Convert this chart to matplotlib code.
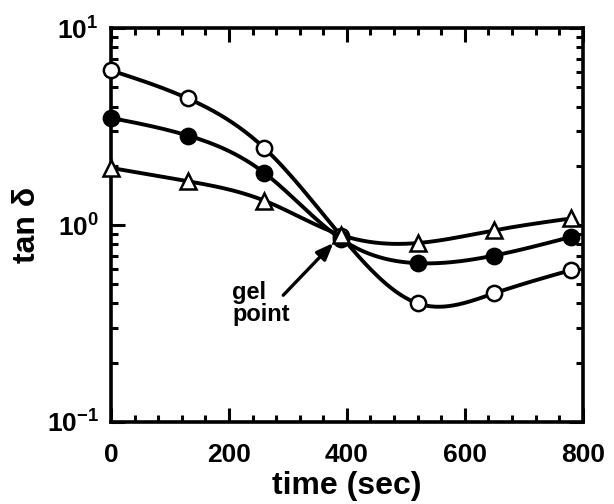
import numpy as np
import matplotlib
matplotlib.use("Agg")
import matplotlib.pyplot as plt
from matplotlib.ticker import MultipleLocator, LogLocator, NullFormatter

plt.rcParams["font.family"] = ["Liberation Sans", "DejaVu Sans"]
plt.rcParams["font.weight"] = "bold"
plt.rcParams["axes.labelweight"] = "bold"
plt.rcParams["mathtext.fontset"] = "custom"
plt.rcParams["mathtext.rm"] = "Liberation Sans:bold"
plt.rcParams["mathtext.default"] = "regular"
plt.rcParams["axes.unicode_minus"] = False

# values
time = [0, 130, 260, 390, 520, 650, 780]
tan_open = [6.1, 4.4, 2.46, 0.88, 0.40, 0.45, 0.59]
tan_filled = [3.5, 2.85, 1.84, 0.85, 0.64, 0.70, 0.87]
tan_tri = [1.95, 1.67, 1.33, 0.89, 0.81, 0.94, 1.08]


def smooth(x, y, n=300):
    # natural cubic spline through the points, done in log space
    x = np.asarray(x, float)
    y = np.log10(np.asarray(y, float))
    k = len(x)
    h = np.diff(x)
    A = np.zeros((k, k))
    r = np.zeros(k)
    A[0, 0] = A[-1, -1] = 1
    for i in range(1, k - 1):
        A[i, i - 1] = h[i - 1]
        A[i, i] = 2 * (h[i - 1] + h[i])
        A[i, i + 1] = h[i]
        r[i] = 6 * ((y[i + 1] - y[i]) / h[i] - (y[i] - y[i - 1]) / h[i - 1])
    M = np.linalg.solve(A, r)
    xs = np.linspace(x[0], x[-1], n)
    idx = np.clip(np.searchsorted(x, xs) - 1, 0, k - 2)
    a = x[idx + 1] - xs
    b = xs - x[idx]
    hi = h[idx]
    ys = (M[idx] * a**3 + M[idx + 1] * b**3) / (6 * hi) \
        + (y[idx] / hi - M[idx] * hi / 6) * a \
        + (y[idx + 1] / hi - M[idx + 1] * hi / 6) * b
    return xs, 10**ys


fig = plt.figure(figsize=(6.14, 5.04), dpi=100)
ax = fig.add_axes([0.181, 0.163, 0.768, 0.781])

for vals, fc, mk in [(tan_open, "white", "o"), (tan_filled, "black", "o"), (tan_tri, "white", "^")]:
    xs, ys = smooth(time, vals)
    ax.plot(xs, ys, color="black", lw=2.8, zorder=2)
    ax.plot(time, vals, ls="none", marker=mk, ms=11 if mk == "o" else 11.5,
            mfc=fc, mec="black", mew=1.8, zorder=3, clip_on=False)

ax.set_yscale("log")
ax.set_xlim(0, 800)
ax.set_ylim(0.1, 10)

ax.xaxis.set_major_locator(MultipleLocator(200))
ax.xaxis.set_minor_locator(MultipleLocator(40))
ax.yaxis.set_major_locator(LogLocator(base=10))
ax.yaxis.set_minor_locator(LogLocator(base=10, subs=np.arange(2, 10)))
ax.yaxis.set_minor_formatter(NullFormatter())

ax.tick_params(which="both", direction="in", top=True, right=True, width=2.2)
ax.tick_params(which="major", length=10, labelsize=19)
ax.tick_params(which="minor", length=5)
ax.tick_params(axis="x", which="major", pad=15)
ax.tick_params(axis="y", which="major", pad=9)
for s in ax.spines.values():
    s.set_linewidth(2.6)

ax.set_xlabel("time (sec)", fontsize=23, labelpad=3)
ax.set_ylabel("tan δ", fontsize=23, labelpad=3)

ax.annotate("", xy=(377, 0.81), xytext=(292, 0.44),
            arrowprops=dict(arrowstyle="-|>,head_length=1.0,head_width=0.4",
                            color="black", lw=2.4, shrinkA=0, shrinkB=0))
ax.text(205, 0.40, "gel\npoint", fontsize=17, ha="left", va="center",
        linespacing=0.95)

fig.savefig("out.png", dpi=100)
